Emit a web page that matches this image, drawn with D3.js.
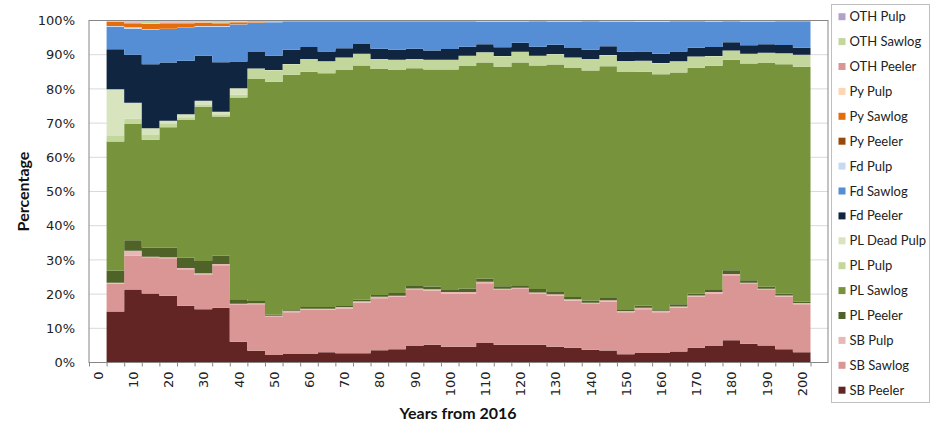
<!DOCTYPE html>
<html><head><meta charset="utf-8">
<script src="https://cdn.jsdelivr.net/npm/d3@7/dist/d3.min.js"></script>
<style>body{margin:0;background:#fff}svg{display:block}</style>
</head><body><svg id="chart" width="948" height="425"></svg>
<script>
// ---------- data ----------
const years = d3.range(5, 205, 5);            // 40 periods shown (5..200)
const tickYears = d3.range(0, 205, 5);        // category axis 0..200
const labelYears = d3.range(0, 210, 10);
const yTicks = d3.range(0, 1.01, 0.1);

const seriesNames = ["SB Peeler","SB Sawlog","SB Pulp","PL Peeler","PL Sawlog","PL Pulp","PL Dead Pulp",
  "Fd Peeler","Fd Sawlog","Fd Pulp","Py Peeler","Py Sawlog","Py Pulp","OTH Peeler","OTH Sawlog","OTH Pulp"];
const seriesColors = ["#632523","#D99694","#E6B9B8","#4F6228","#77933C","#C3D69B","#D7E4BD",
  "#10253F","#558ED5","#C6D9F1","#984807","#E46C0A","#FCD5B5","#D99694","#C3D69B","#B3A2C7"];

const SB_Peeler = [14.9,21.4,20.2,19.5,16.6,15.6,16.0,6.1,3.4,2.2,2.5,2.5,3.0,2.7,2.7,3.6,3.9,4.8,5.2,4.6,4.6,5.7,5.2,5.2,5.2,4.6,4.3,3.7,3.5,2.4,2.8,2.8,3.2,4.3,4.8,6.5,5.5,5.0,3.9,3.0];
const SB_Sawlog = [8.1,9.9,10.6,11.0,10.7,10.0,12.4,10.7,13.6,11.1,12.2,12.9,12.4,13.1,14.8,15.2,15.3,16.4,15.8,15.6,15.6,17.5,16.0,16.3,14.9,15.0,13.8,13.4,14.3,12.3,12.8,11.9,12.8,14.9,15.4,19.0,17.5,16.2,15.3,14.0];
const SB_Pulp = [0.3,1.4,0.1,0.3,0.3,0.5,0.4,0.4,0.3,0.4,0.4,0.3,0.3,0.4,0.4,0.4,0.3,0.4,0.4,0.4,0.4,0.4,0.4,0.4,0.4,0.4,0.4,0.4,0.4,0.4,0.4,0.4,0.4,0.4,0.4,0.4,0.3,0.4,0.4,0.4];
const PL_Peeler = [3.5,3.1,2.7,2.8,3.0,3.6,2.4,1.3,0.7,0.3,0.5,0.5,0.5,0.3,0.5,0.5,0.8,0.8,0.8,0.6,1.0,0.9,0.7,0.7,1.0,0.6,0.7,0.6,0.7,0.5,0.6,0.5,0.6,0.6,0.8,1.1,0.8,0.6,0.5,0.4];
const PL_Sawlog = [37.8,34.1,31.5,35.2,40.3,45.1,40.7,59.0,64.8,68.1,68.5,68.8,68.4,69.0,68.4,66.1,65.2,63.6,63.5,64.5,65.1,63.3,64.2,65.2,65.3,66.6,67.0,67.3,67.8,69.4,68.4,68.7,67.8,66.0,65.4,61.5,63.4,65.4,67.1,68.7];
const PL_Pulp = [1.6,1.5,1.4,1.1,0.8,0.5,0.7,0.8,3.0,3.4,3.1,3.7,3.4,3.6,3.4,2.9,3.0,2.7,2.8,2.8,2.9,2.9,3.1,3.1,2.8,3.0,3.0,3.3,3.2,3.2,3.2,3.2,3.2,3.2,2.8,2.7,2.8,3.0,3.2,3.4];
const PL_DeadPulp = [13.7,4.6,2.0,0.8,0.9,1.2,0.7,1.9,0.1,0.05,0.05,0.05,0.05,0.05,0.05,0.05,0.05,0.05,0.05,0.05,0.05,0.05,0.05,0.05,0.05,0.05,0.05,0.05,0.05,0.05,0.05,0.05,0.05,0.05,0.05,0.05,0.05,0.05,0.05,0.05];
const Fd_Peeler = [11.7,14.1,18.7,17.0,15.6,13.2,14.5,7.8,4.8,4.2,4.2,3.5,2.9,2.7,2.9,3.0,2.9,3.0,2.7,3.1,2.7,2.4,2.6,2.6,2.7,2.7,2.8,2.7,2.6,2.7,2.7,2.7,2.9,2.6,2.7,2.4,2.5,2.5,2.4,2.1];
const Fd_Sawlog = [6.6,7.6,10.2,9.8,9.8,8.5,10.4,10.8,8.5,9.8,8.3,7.5,8.8,7.9,6.6,8.0,8.3,8.0,8.5,8.1,7.4,6.6,7.5,6.2,7.4,6.8,7.7,8.3,7.2,8.8,8.7,9.4,8.8,7.7,7.4,6.1,6.9,6.6,6.9,7.7];
const Fd_Pulp = [0.2,0.4,0.1,0.1,0.1,0.2,0.2,0.1,0.1,0.1,0.1,0.1,0.1,0.1,0.1,0.1,0.1,0.1,0.1,0.1,0.1,0.1,0.1,0.1,0.1,0.1,0.1,0.1,0.1,0.1,0.2,0.2,0.1,0.1,0.1,0.1,0.1,0.1,0.1,0.1];
const Py_Peeler = [0,0,0,0,0,0,0,0,0,0,0,0,0,0,0,0,0,0,0,0,0,0,0,0,0,0,0,0,0,0,0,0,0,0,0,0,0,0,0,0];
const Py_Sawlog = [1.2,1.2,1.5,1.6,1.1,1.0,0.8,0.6,0.3,0.2,0.03,0.03,0.03,0.03,0.03,0.03,0.03,0.03,0.03,0.03,0.03,0.03,0.03,0.03,0.03,0.03,0.03,0.03,0.03,0.03,0.03,0.03,0.03,0.03,0.03,0.03,0.03,0.03,0.03,0.03];
const Py_Pulp = [0.1,0.2,0.1,0.2,0.2,0.15,0.1,0.1,0.1,0.05,0.02,0.02,0.02,0.02,0.02,0.02,0.02,0.02,0.02,0.02,0.02,0.05,0.05,0.05,0.02,0.05,0.05,0.02,0.05,0.05,0.02,0.02,0.02,0.02,0.05,0.02,0.05,0.05,0.02,0.02];
const OTH_Peeler = [0.1,0.2,0.1,0.2,0.2,0.15,0.1,0.1,0.05,0.05,0.05,0.05,0.05,0.05,0.05,0.05,0.05,0.05,0.05,0.05,0.05,0.1,0.1,0.1,0.05,0.1,0.1,0.05,0.1,0.1,0.05,0.05,0.05,0.05,0.1,0.05,0.1,0.1,0.05,0.05];
const OTH_Sawlog = [0.1,0.2,0.6,0.2,0.2,0.15,0.5,0.2,0.05,0.05,0.02,0.02,0.02,0.02,0.02,0.02,0.02,0.02,0.02,0.02,0.02,0.02,0.02,0.02,0.02,0.02,0.02,0.02,0.02,0.02,0.02,0.02,0.02,0.02,0.02,0.02,0.02,0.02,0.02,0.02];
const OTH_Pulp = [0.1,0.2,0.2,0.2,0.2,0.15,0.1,0.1,0.1,0.05,0.02,0.02,0.02,0.02,0.02,0.02,0.02,0.02,0.02,0.02,0.02,0.02,0.02,0.02,0.02,0.02,0.02,0.02,0.02,0.02,0.02,0.02,0.02,0.02,0.02,0.02,0.02,0.02,0.02,0.02];

const seriesValues = [SB_Peeler,SB_Sawlog,SB_Pulp,PL_Peeler,PL_Sawlog,PL_Pulp,PL_DeadPulp,
  Fd_Peeler,Fd_Sawlog,Fd_Pulp,Py_Peeler,Py_Sawlog,Py_Pulp,OTH_Peeler,OTH_Sawlog,OTH_Pulp];

// ---------- layout ----------
const svg = d3.select("#chart");
const L = 89, R = 828, T = 20.5, B = 362.5;
const x = d3.scaleLinear().domain([-2.5, 202.5]).range([L, 810.5]);
const y = d3.scaleLinear().domain([0, 1]).range([B, T]);
const axisFont = "'DejaVu Sans', sans-serif";
const titleFont = "Lato, 'Open Sans', sans-serif";

// gridlines
svg.append("g").selectAll("line").data(yTicks).join("line")
  .attr("x1", L).attr("x2", R).attr("y1", d => y(d)).attr("y2", d => y(d))
  .attr("stroke", "#d9d9d9").attr("stroke-width", 1);

// stacked data
const rows = years.map((yr, i) => {
  const o = {year: yr};
  seriesNames.forEach((n, k) => o[n] = seriesValues[k][i]);
  return o;
});
const stack = d3.stack().keys(seriesNames).offset(d3.stackOffsetExpand);
const layers = stack(rows);

const area = d3.area()
  .x(p => p.x).y0(p => y(p.y0)).y1(p => y(p.y1));

svg.append("g").selectAll("path").data(layers).join("path")
  .attr("fill", (d, i) => seriesColors[i])
  .attr("d", layer => {
    const pts = [];
    layer.forEach(s => {
      const yr = s.data.year;
      pts.push({x: x(yr - 2.5), y0: s[0], y1: s[1]});
      pts.push({x: x(yr + 2.5), y0: s[0], y1: s[1]});
    });
    return area(pts);
  });

// plot frame
svg.append("rect").attr("x", L).attr("y", T).attr("width", R - L).attr("height", B - T)
  .attr("fill", "none").attr("stroke", "#868686").attr("stroke-width", 1);

// y axis labels
const yAxis = d3.axisLeft(y).tickValues(yTicks).tickFormat(d3.format(".0%")).tickSize(0).tickPadding(14);
const gy = svg.append("g").attr("transform", `translate(${L},0)`).call(yAxis);
gy.select(".domain").remove();
gy.selectAll("text").attr("font-family", axisFont).attr("font-size", 13).attr("fill", "#222");

// x axis tick marks at category boundaries
const boundaries = tickYears.map(d => d - 2.5).concat([202.5]);
const xTickAxis = d3.axisBottom(x).tickValues(boundaries).tickFormat("").tickSize(4).tickSizeOuter(0);
const gxt = svg.append("g").attr("transform", `translate(0,${B})`).call(xTickAxis);
gxt.select(".domain").remove();
gxt.selectAll("line").attr("stroke", "#868686");

// x axis labels
const xLabAxis = d3.axisBottom(x).tickValues(labelYears).tickFormat(d3.format("d")).tickSize(0);
const gx = svg.append("g").attr("transform", `translate(0,${B})`).call(xLabAxis);
gx.select(".domain").remove();
gx.selectAll("text")
  .attr("font-family", axisFont).attr("font-size", 13).attr("fill", "#222")
  .attr("text-anchor", "end")
  .attr("transform", "rotate(-90)")
  .attr("x", -9).attr("y", 0).attr("dy", "0.35em");

// axis titles
svg.append("text").attr("transform", `translate(23,${(T + B) / 2}) rotate(-90)`)
  .attr("text-anchor", "middle").attr("dy", "0.35em")
  .attr("font-family", titleFont).attr("font-weight", "bold").attr("font-size", 16).attr("fill", "#111")
  .text("Percentage");
svg.append("text").attr("x", 458).attr("y", 413)
  .attr("text-anchor", "middle").attr("dy", "0.35em")
  .attr("font-family", titleFont).attr("font-weight", "bold").attr("font-size", 16).attr("fill", "#111")
  .text("Years from 2016");

// legend
const lg = svg.append("g");
lg.append("rect").attr("x", 831.5).attr("y", 4.5).attr("width", 98).attr("height", 398)
  .attr("fill", "#fff").attr("stroke", "#bfbfbf");
const legendItems = seriesNames.map((n, i) => ({name: n, color: seriesColors[i]})).reverse();
const li = lg.selectAll("g.item").data(legendItems).join("g")
  .attr("transform", (d, i) => `translate(838.5,${16.7 + i * 24.9})`);
li.append("rect").attr("x", 0).attr("y", -3.5).attr("width", 7).attr("height", 7).attr("fill", d => d.color);
li.append("text").attr("x", 11).attr("dy", "0.35em")
  .attr("font-family", titleFont).attr("font-size", 13).attr("fill", "#222")
  .text(d => d.name);
</script></body></html>
